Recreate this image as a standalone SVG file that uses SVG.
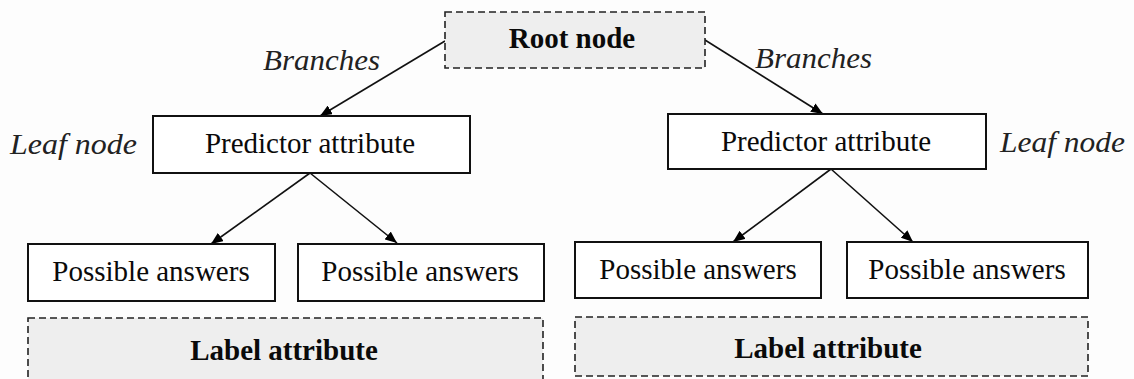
<svg xmlns="http://www.w3.org/2000/svg" width="1134" height="379" viewBox="0 0 1134 379">
  <defs>
    <marker id="arrow" viewBox="0 0 12 10" refX="12" refY="5" markerWidth="12" markerHeight="10" markerUnits="userSpaceOnUse" orient="auto">
      <path d="M0,0 L12,5 L0,10 z" fill="#000"/>
    </marker>
  </defs>
  <style>
    .box { fill: #fff; stroke: #111; stroke-width: 2; }
    .dash { fill: #eeeeee; stroke: #222; stroke-width: 1.6; stroke-dasharray: 7 4; }
    text { font-family: "Liberation Serif", "Times New Roman", serif; font-size: 29px; }
    .txt { fill: #0a0a0a; text-anchor: middle; }
    .bold { font-weight: bold; }
    .ital { font-style: italic; fill: #222; }
    .edge { stroke: #111; stroke-width: 1.6; fill: none; marker-end: url(#arrow); }
  </style>
  <rect width="1134" height="379" fill="#fdfdfd"/>

  <!-- connectors -->
  <g id="connectors">
    <line class="edge" x1="445" y1="41" x2="320" y2="116"/>
    <line class="edge" x1="705" y1="40" x2="823" y2="114"/>
    <line class="edge" x1="310" y1="173" x2="211" y2="244"/>
    <line class="edge" x1="310" y1="173" x2="397" y2="243"/>
    <line class="edge" x1="831" y1="169" x2="733" y2="242"/>
    <line class="edge" x1="831" y1="169" x2="913" y2="242"/>
  </g>

  <!-- edge / side labels -->
  <g id="labels">
    <text class="ital" x="263" y="70" textLength="117" lengthAdjust="spacingAndGlyphs">Branches</text>
    <text class="ital" x="755" y="68" textLength="117" lengthAdjust="spacingAndGlyphs">Branches</text>
    <text class="ital" x="10" y="154" textLength="127" lengthAdjust="spacingAndGlyphs">Leaf node</text>
    <text class="ital" x="1000" y="152" textLength="125" lengthAdjust="spacingAndGlyphs">Leaf node</text>
  </g>

  <g id="root">
    <rect class="dash" x="445" y="12" width="260" height="56"/>
    <text class="txt bold" x="572" y="48">Root node</text>
  </g>

  <g id="predictor-left">
    <rect class="box" x="153" y="116" width="317" height="57"/>
    <text class="txt" x="310" y="153">Predictor attribute</text>
  </g>
  <g id="predictor-right">
    <rect class="box" x="668" y="114" width="318" height="55"/>
    <text class="txt" x="826" y="151">Predictor attribute</text>
  </g>

  <g id="answer-1">
    <rect class="box" x="28" y="244" width="247" height="57"/>
    <text class="txt" x="151" y="281">Possible answers</text>
  </g>
  <g id="answer-2">
    <rect class="box" x="298" y="244" width="246" height="57"/>
    <text class="txt" x="420" y="281">Possible answers</text>
  </g>
  <g id="answer-3">
    <rect class="box" x="575" y="242" width="246" height="56"/>
    <text class="txt" x="698" y="279">Possible answers</text>
  </g>
  <g id="answer-4">
    <rect class="box" x="847" y="242" width="241" height="56"/>
    <text class="txt" x="967" y="279">Possible answers</text>
  </g>

  <g id="label-left">
    <rect class="dash" x="28" y="318" width="515" height="70"/>
    <text class="txt bold" x="284" y="360">Label attribute</text>
  </g>
  <g id="label-right">
    <rect class="dash" x="575" y="317" width="513" height="59"/>
    <text class="txt bold" x="828" y="358">Label attribute</text>
  </g>
</svg>
